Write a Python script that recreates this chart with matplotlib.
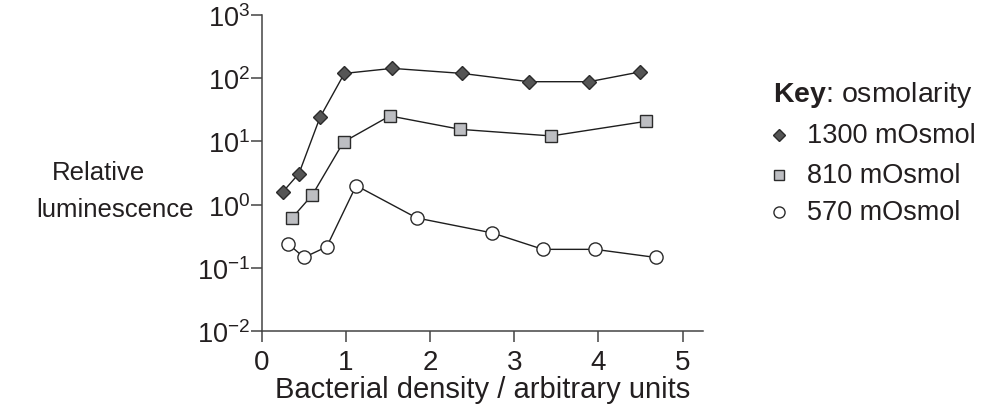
import matplotlib.pyplot as plt
from matplotlib.lines import Line2D

plt.rcParams['font.family'] = ['Liberation Sans', 'DejaVu Sans']
plt.rcParams['mathtext.fontset'] = 'custom'
plt.rcParams['mathtext.rm'] = 'Liberation Sans'
plt.rcParams['mathtext.it'] = 'Liberation Sans:italic'
plt.rcParams['mathtext.bf'] = 'Liberation Sans:bold'
plt.rcParams['text.color'] = '#231f20'

# bacterial density (x) and relative luminescence (y) per osmolarity
x_1300 = [0.25, 0.44, 0.69, 0.98, 1.55, 2.38, 3.17, 3.89, 4.50]
y_1300 = [1.6, 3.1, 24, 119, 143, 119, 88, 88, 126]

x_810 = [0.36, 0.60, 0.97, 1.52, 2.36, 3.44, 4.57]
y_810 = [0.62, 1.43, 9.8, 25.3, 15.5, 12.2, 20.8]

x_570 = [0.31, 0.50, 0.77, 1.12, 1.84, 2.74, 3.34, 3.96, 4.68]
y_570 = [0.24, 0.146, 0.215, 2.0, 0.615, 0.356, 0.196, 0.196, 0.146]

labels = ['1300 mOsmol', '810 mOsmol', '570 mOsmol']
xticks = [0, 1, 2, 3, 4, 5]
yticks = [1e-2, 1e-1, 1e0, 1e1, 1e2, 1e3]

edge = '#2b2b2b'
styles = [
    dict(marker='D', ms=6.8, mfc='#555555'),
    dict(marker='s', ms=9, mfc='#bdbec2'),
    dict(marker='o', ms=9.5, mfc='white'),
]

fig = plt.figure(figsize=(9.9, 4.14), dpi=100)
ax = fig.add_axes([0.2646, 0.198, 0.4452, 0.7634])

series = [(x_1300, y_1300), (x_810, y_810), (x_570, y_570)]
for (xs, ys), st in zip(series, styles):
    ax.plot(xs, ys, color='#1e1e1e', lw=1.0, mec=edge, mew=1.0, **st)

ax.set_yscale('log')
ax.set_xlim(0, 5.24)
ax.set_ylim(1e-2, 1e3)
ax.set_xticks(xticks)
ax.set_yticks(yticks)
ax.minorticks_off()

for s in ['top', 'right']:
    ax.spines[s].set_visible(False)
for s in ['left', 'bottom']:
    ax.spines[s].set_color('#444444')
    ax.spines[s].set_linewidth(1.1)

ax.tick_params(axis='x', length=8, width=1.1, color='#444444', labelsize=20, pad=5,
               labelcolor='#231f20')
ax.tick_params(axis='y', length=8, width=1.1, color='#444444', labelsize=19.5, pad=0.5,
               labelcolor='#231f20')

fig.text(0.4874, 0.0386, 'Bacterial density / arbitrary units', fontsize=21,
         ha='center', va='baseline')
fig.text(0.1, 1 - 180 / 414, 'Relative', fontsize=18.5, ha='center', va='baseline')
fig.text(0.116, 1 - 217 / 414, 'luminescence', fontsize=18.5, ha='center', va='baseline')

# key
fig.text(0.781, 0.771, r'$\mathbf{Key}$: osmolarity', fontsize=20.5, va='center')
rows = [0.671, 0.575, 0.485]
leg_ms = [6.5, 7.5, 8]
for yy, lab, st, ms in zip(rows, labels, styles, leg_ms):
    st2 = dict(st)
    st2['ms'] = ms
    fig.add_artist(Line2D([0.7869], [yy], transform=fig.transFigure, ls='none',
                          mec=edge, mew=1.0, **st2))
    fig.text(0.8152, yy, lab, fontsize=19.5, va='center')

fig.savefig('out.png', dpi=100)
